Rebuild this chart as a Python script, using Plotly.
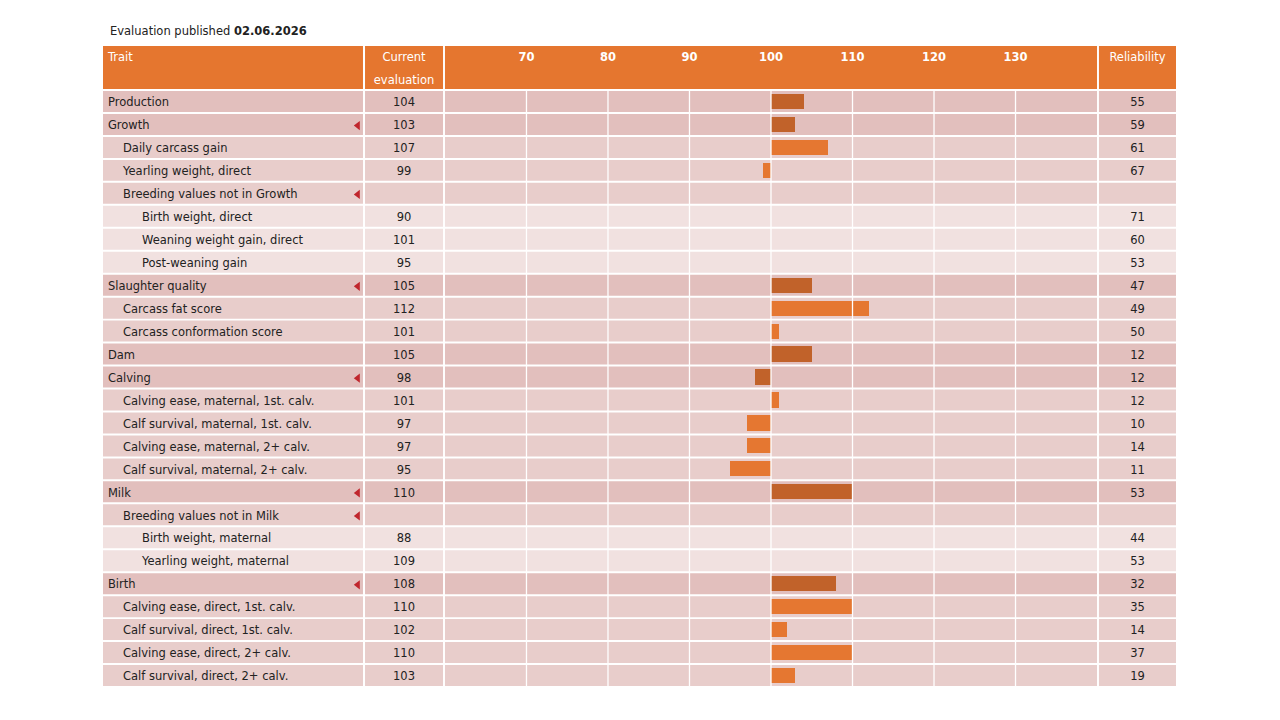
import plotly.graph_objects as go

# ── DATA ───────────────────────────────────────────────────────────
traits = [
    "Production", "Growth", "Daily carcass gain", "Yearling weight, direct",
    "Breeding values not in Growth", "Birth weight, direct",
    "Weaning weight gain, direct", "Post-weaning gain", "Slaughter quality",
    "Carcass fat score", "Carcass conformation score", "Dam", "Calving",
    "Calving ease, maternal, 1st. calv.", "Calf survival, maternal, 1st. calv.",
    "Calving ease, maternal, 2+ calv.", "Calf survival, maternal, 2+ calv.",
    "Milk", "Breeding values not in Milk", "Birth weight, maternal",
    "Yearling weight, maternal", "Birth", "Calving ease, direct, 1st. calv.",
    "Calf survival, direct, 1st. calv.", "Calving ease, direct, 2+ calv.",
    "Calf survival, direct, 2+ calv.",
]
levels = [0, 0, 1, 1, 1, 2, 2, 2, 0, 1, 1, 0, 0, 1, 1, 1, 1, 0, 1, 2, 2, 0, 1, 1, 1, 1]
expandable = [False, True, False, False, True, False, False, False, True, False, False,
              False, True, False, False, False, False, True, True, False, False, True,
              False, False, False, False]
evaluation = [104, 103, 107, 99, None, 90, 101, 95, 105, 112, 101, 105, 98, 101, 97, 97,
              95, 110, None, 88, 109, 108, 110, 102, 110, 103]
reliability = [55, 59, 61, 67, None, 71, 60, 53, 47, 49, 50, 12, 12, 12, 10, 14, 11, 53,
               None, 44, 53, 32, 35, 14, 37, 19]
scale_ticks = [70, 80, 90, 100, 110, 120, 130]
published = "02.06.2026"

# ── STYLE ──────────────────────────────────────────────────────────
FONT = "DejaVu Sans"
FS = 11.5
TXT = "#222222"
HEAD = "#E5762F"
ROW_BG = {0: "#E2BFBD", 1: "#E8CDCB", 2: "#F1E1E0"}
BAR_COL = {0: "#C1622A", 1: "#E57731"}
INDENT = {0: 0.019, 1: 0.077, 2: 0.150}

n = len(traits)
rows = list(range(n))
text_rows = [i + 0.08 for i in rows]   # text sits a touch below the cell centre
y_top = -2.417          # top of header cell
y_head_bot = -0.544     # bottom of header cell
y_line1 = -1.90
y_line2 = -0.90

fig = go.Figure()

# ── CELL BACKGROUNDS ───────────────────────────────────────────────
col_axes = ["x", "x2", "x3", "x4"]
shapes = []
for ax in col_axes:
    shapes.append(dict(type="rect", xref=f"{ax} domain", yref="y", x0=0, x1=1,
                       y0=y_top, y1=y_head_bot, fillcolor=HEAD, line_width=0,
                       layer="below"))
    for i in rows:
        shapes.append(dict(type="rect", xref=f"{ax} domain", yref="y", x0=0, x1=1,
                           y0=i - 0.457, y1=i + 0.457, fillcolor=ROW_BG[levels[i]],
                           line_width=0, layer="below"))

# ── BARS (levels 0 and 1 only) ─────────────────────────────────────
bar_rows = [i for i in rows if levels[i] < 2 and evaluation[i] is not None]
fig.add_trace(go.Bar(
    orientation="h", xaxis="x3", yaxis="y",
    y=bar_rows,
    x=[evaluation[i] - 100 for i in bar_rows],
    base=100, width=0.66,
    marker=dict(color=[BAR_COL[levels[i]] for i in bar_rows], line_width=0),
    hoverinfo="skip", showlegend=False,
))

# gridlines drawn over the bars
gx, gy = [], []
for t in scale_ticks:
    gx += [t, t, None]
    gy += [-0.5, n - 0.5, None]
fig.add_trace(go.Scatter(x=gx, y=gy, xaxis="x3", yaxis="y", mode="lines",
                         line=dict(color="white", width=1.3),
                         hoverinfo="skip", showlegend=False))

# ── TEXT COLUMNS ───────────────────────────────────────────────────
fig.add_trace(go.Scatter(
    x=[INDENT[lv] for lv in levels], y=text_rows, xaxis="x", yaxis="y",
    mode="text", text=traits, textposition="middle right",
    textfont=dict(family=FONT, size=FS, color=TXT),
    hoverinfo="skip", showlegend=False,
))
tri_rows = [i for i in rows if expandable[i]]
fig.add_trace(go.Scatter(
    x=[0.98] * len(tri_rows), y=[i + 0.05 for i in tri_rows], xaxis="x", yaxis="y",
    mode="markers", marker=dict(symbol="triangle-left", size=8, color="#C0262D"),
    hoverinfo="skip", showlegend=False,
))
fig.add_trace(go.Scatter(
    x=[0.5] * n, y=text_rows, xaxis="x2", yaxis="y", mode="text",
    text=["" if v is None else str(v) for v in evaluation],
    textposition="middle center", textfont=dict(family=FONT, size=FS, color=TXT),
    hoverinfo="skip", showlegend=False,
))
fig.add_trace(go.Scatter(
    x=[0.5] * n, y=text_rows, xaxis="x4", yaxis="y", mode="text",
    text=["" if v is None else str(v) for v in reliability],
    textposition="middle center", textfont=dict(family=FONT, size=FS, color=TXT),
    hoverinfo="skip", showlegend=False,
))

# ── HEADER TEXT ────────────────────────────────────────────────────
head_font = dict(family=FONT, size=FS, color="white")
fig.add_trace(go.Scatter(x=[INDENT[0]], y=[y_line1], xaxis="x", yaxis="y", mode="text",
                         text=["Trait"], textposition="middle right", textfont=head_font,
                         hoverinfo="skip", showlegend=False))
fig.add_trace(go.Scatter(x=[0.5, 0.5], y=[y_line1, y_line2], xaxis="x2", yaxis="y",
                         mode="text", text=["Current", "evaluation"],
                         textposition="middle center", textfont=head_font,
                         hoverinfo="skip", showlegend=False))
fig.add_trace(go.Scatter(x=scale_ticks, y=[y_line1] * len(scale_ticks), xaxis="x3",
                         yaxis="y", mode="text", text=[f"<b>{t}</b>" for t in scale_ticks],
                         textposition="middle center", textfont=head_font,
                         hoverinfo="skip", showlegend=False))
fig.add_trace(go.Scatter(x=[0.5], y=[y_line1], xaxis="x4", yaxis="y", mode="text",
                         text=["Reliability"], textposition="middle center",
                         textfont=head_font, hoverinfo="skip", showlegend=False))

# ── LAYOUT ─────────────────────────────────────────────────────────
hidden = dict(showgrid=False, zeroline=False, showticklabels=False, showline=False,
              ticks="", fixedrange=True)
fig.update_layout(
    width=1264, height=704,
    margin=dict(l=95, r=96, t=38, b=25),
    paper_bgcolor="white", plot_bgcolor="white",
    font=dict(family=FONT, size=FS, color=TXT),
    shapes=shapes, bargap=0,
    xaxis=dict(domain=[0, 0.2423], range=[0, 1], anchor="y", **hidden),
    xaxis2=dict(domain=[0.2442, 0.3169], range=[0, 1], anchor="y", **hidden),
    xaxis3=dict(domain=[0.3187, 0.9264], range=[60, 140], anchor="y", **hidden),
    xaxis4=dict(domain=[0.9282, 1.0], range=[0, 1], anchor="y", **hidden),
    yaxis=dict(range=[n - 0.5, y_top], domain=[0, 1], **hidden),
    annotations=[dict(
        xref="paper", yref="paper", x=0, xshift=5, y=1.0234, xanchor="left",
        yanchor="middle", showarrow=False,
        text=f"Evaluation published <b>{published}</b>",
        font=dict(family=FONT, size=FS, color=TXT),
    )],
)

fig.write_html("out.html")
